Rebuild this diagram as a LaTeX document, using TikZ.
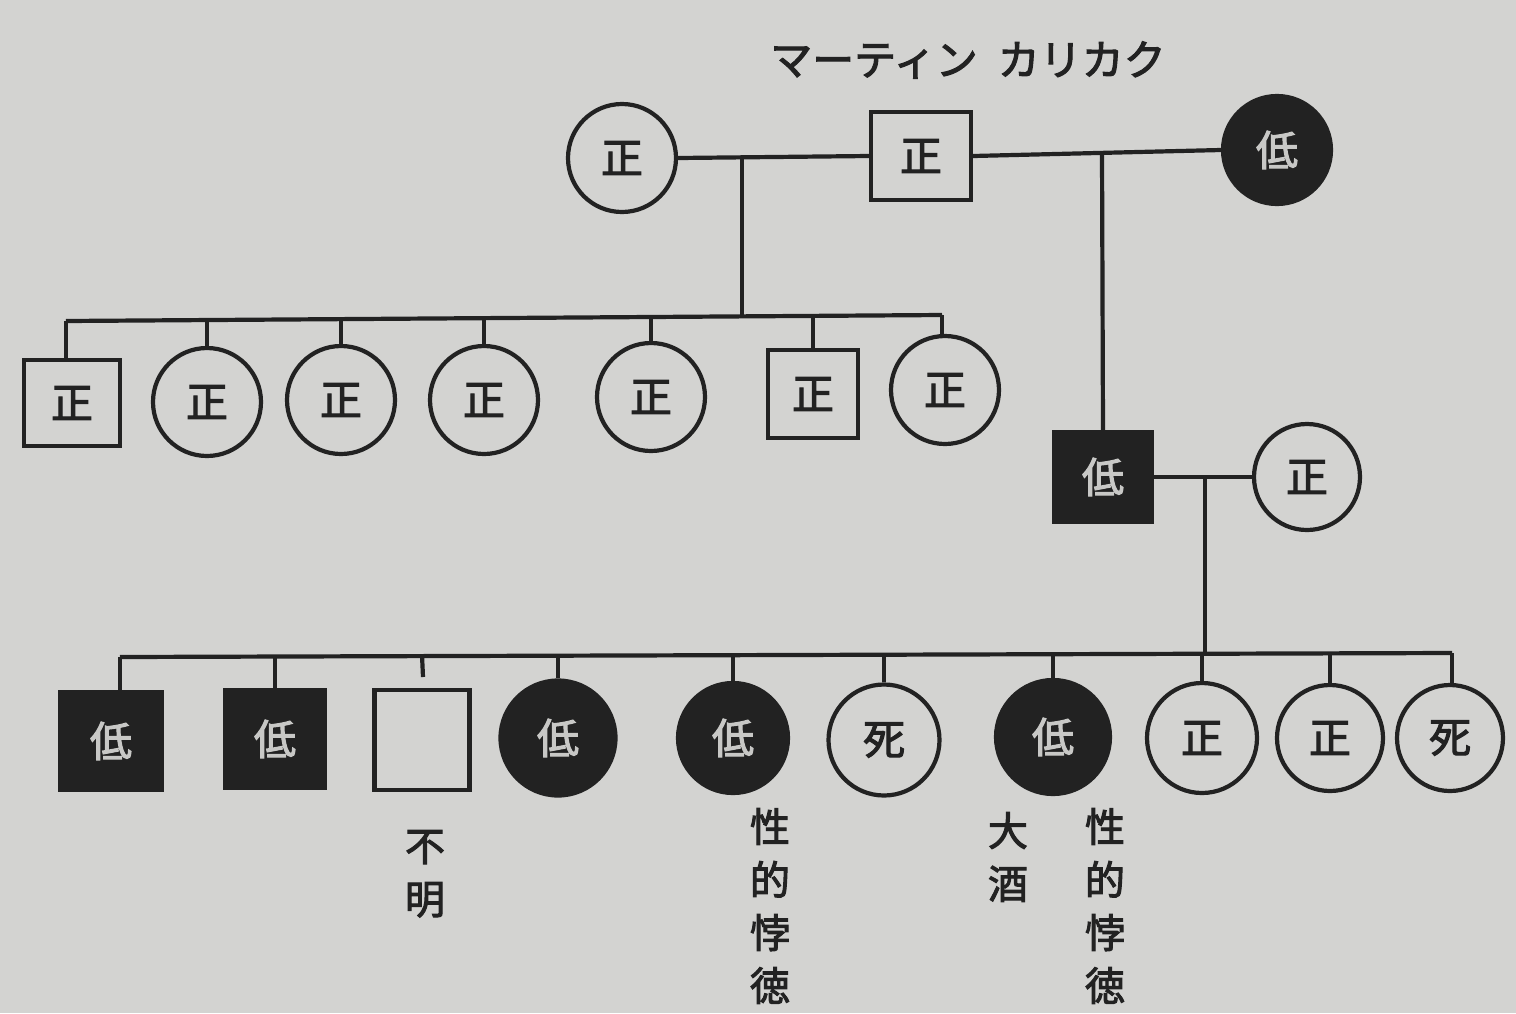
\documentclass[tikz,border=0pt]{standalone}
\usepackage{fontspec}
\newfontfamily\jp[AutoFakeBold=2.5]{Noto Sans CJK JP}
\definecolor{paper}{RGB}{211,211,209}
\definecolor{ink}{RGB}{34,34,34}
\definecolor{pale}{RGB}{200,200,198}
\begin{document}
\begin{tikzpicture}[x=1pt,y=-1pt,
  line/.style={draw=ink, line width=4.2pt},
  sym/.style={draw=ink, line width=4.2pt, inner sep=0pt, text=ink,
    font=\jp\bfseries\fontsize{42}{42}\selectfont},
  pc/.style={sym, circle, minimum size=#1},
  pc/.default=108pt,
  ps/.style={sym, rectangle},
  blk/.style={fill=ink, text=pale},
  vlab/.style={align=center, text=ink, font=\jp\bfseries\fontsize{40}{53}\selectfont, inner sep=0pt, anchor=north},
  ttl/.style={text=ink, font=\jp\bfseries\fontsize{42}{42}\selectfont, inner sep=0pt}]
\fill[paper] (0,0) rectangle (1516,1013);
\useasboundingbox (0,0) rectangle (1516,1013);

% title
\node[ttl] (title) at (968,60) {マーティン\hspace{20pt}カリカク};

% generation 1
\node[pc] (g1w) at (622,158) {正};
\node[ps, minimum width=100pt, minimum height=88pt] (g1m) at (921,156) {正};
\node[pc, blk] (g1b) at (1277,150) {低};
\draw[line] (g1w.east) -- (g1m.west);
\draw[line] (g1m.east) -- (g1b.west);
\coordinate (j1) at (742,157);
\coordinate (j2) at (1102,153);

% generation 2, left family
\coordinate (bL) at (66,321);
\coordinate (bR) at (942,315);
\coordinate (b1) at (742,318);
\node[ps, minimum width=96pt, minimum height=86pt] (c1) at (72,403) {正};
\node[pc] (c2) at (207,402) {正};
\node[pc] (c3) at (341,400) {正};
\node[pc] (c4) at (484,400) {正};
\node[pc] (c5) at (651,397) {正};
\node[ps, minimum width=90pt, minimum height=88pt] (c6) at (813,394) {正};
\node[pc] (c7) at (945,390) {正};
\draw[line] (j1) -- (b1);
\draw[line] (bL) -- (bR);
\draw[line] (bL) -- (bL |- c1.north);
\foreach \n in {c2,c3,c4,c5,c6}{
  \draw[line] (\n.north |- b1) -- (\n.north);
}
\draw[line] (bR) -- (bR |- c7.north);

% generation 2, right family
\node[ps, blk, minimum width=97pt, minimum height=90pt] (g2m) at (1103,477) {低};
\node[pc=106pt] (g2w) at (1307,477) {正};
\draw[line] (j2) -- (g2m.north);
\draw[line] (g2m.east) -- (g2w.west);
\coordinate (j3) at (1205,478);

% generation 3
\coordinate (dL) at (120,657);
\coordinate (dR) at (1452,653);
\coordinate (d0) at (1205,655);
\node[ps, blk, minimum width=102pt, minimum height=98pt] (h1) at (111,741) {低};
\node[ps, blk, minimum width=100pt, minimum height=98pt] (h2) at (275,739) {低};
\node[ps, minimum width=95pt, minimum height=100pt] (h3) at (422,740) {};
\node[pc=115pt, blk] (h4) at (558,738) {低};
\node[pc=110pt, blk] (h5) at (733,738) {低};
\node[pc=111pt] (h6) at (884,740) {死};
\node[pc=114pt, blk] (h7) at (1053,737) {低};
\node[pc=110pt] (h8) at (1202,738) {正};
\node[pc=106pt] (h9) at (1330,738) {正};
\node[pc=106pt] (h10) at (1450,738) {死};
\draw[line] (j3) -- (d0);
\draw[line] (dL) -- (dR);
\draw[line] (dL) -- (dL |- h1.north);
\foreach \n in {h2,h4,h5,h6,h7,h8,h9}{
  \draw[line] (\n.north |- d0) -- (\n.north);
}
\draw[line] (dR) -- (dR |- h10.north);
\coordinate (t3) at (423,677);
\draw[line] (h3.north |- d0) -- (t3);

% vertical labels
\node[vlab] (l3) at (425,830) {不\\明};
\node[vlab] (l5) at (770,808) {性\\的\\悖\\徳};
\node[vlab] (l7a) at (1008,812) {大\\酒};
\node[vlab] (l7b) at (1105,808) {性\\的\\悖\\徳};
\end{tikzpicture}
\end{document}
